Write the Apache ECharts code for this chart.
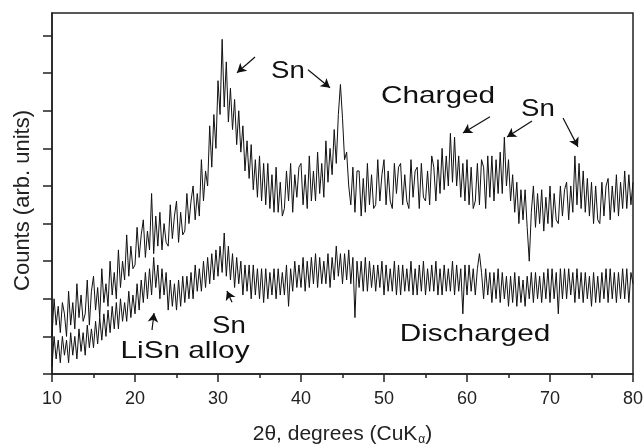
<!DOCTYPE html>
<html><head><meta charset="utf-8">
<script src="https://cdn.jsdelivr.net/npm/echarts@6/dist/echarts.min.js"></script>
<style>html,body{margin:0;padding:0;background:#fff}#c{width:644px;height:444px}</style>
</head><body><div id="c"></div>
<script>
// 2theta grid: 10 .. 80 deg, step 0.25 deg
const startAngle = 10;
const stepAngle = 0.25;

// Charged electrode pattern (arb. units), 4 readings per degree (10.00, 10.25, 10.50, 10.75, 11.00 ...)
const charged = [
  1.0,2.0,1.3,1.8, 1.1,1.9,1.6,1.0, 2.2,1.3,1.9,1.2, 2.4,1.5,2.1,1.4, 1.6,2.5,1.3,2.2,
  2.6,1.7,2.3,1.5, 2.8,1.9,2.4,1.8, 3.0,2.1,2.7,2.0, 3.3,2.3,3.0,2.5, 3.7,2.6,3.4,2.8,
  2.9,3.9,3.1,3.7, 4.1,3.1,3.8,3.3, 4.8,3.2,4.2,3.4, 4.3,3.3,4.0,3.5, 3.4,4.5,3.6,4.2,
  4.6,3.5,4.3,3.7, 3.8,4.8,4.0,4.6, 5.0,4.1,4.8,4.2, 5.7,4.6,5.4,5.0, 6.6,5.5,6.9,6.0,
  7.8,6.9,8.9,7.1, 8.3,6.7,7.6,6.5, 7.3,6.1,7.0,5.9, 6.6,5.4,6.2,5.2, 6.1,4.9,5.7,4.7,
  5.8,4.6,5.6,4.5, 5.6,4.4,5.3,4.3, 5.5,4.3,5.1,4.2, 4.4,5.4,4.6,5.6, 4.3,5.3,4.7,5.5,
  5.6,4.5,5.3,4.4, 5.8,4.6,5.4,4.6, 5.9,4.8,5.6,4.7, 6.2,5.1,6.0,5.3, 6.5,5.6,6.9,7.7,
  6.8,5.7,5.9,5.0, 4.5,5.5,4.3,5.4, 5.4,4.2,5.2,4.3, 5.6,4.5,5.3,4.4, 4.5,5.7,4.6,5.3,
  5.7,4.5,5.4,4.6, 4.4,5.6,4.8,5.5, 5.6,4.5,5.3,4.6, 4.4,5.7,4.7,5.4, 5.5,4.4,5.6,4.7,
  4.6,5.4,4.5,5.8, 5.5,4.6,5.7,4.8, 6.0,4.9,5.8,5.0, 6.4,5.1,6.3,5.0, 5.8,4.7,5.6,4.6,
  5.7,4.5,5.5,4.4, 4.6,5.6,4.5,5.7, 5.5,4.4,5.8,4.7, 5.8,4.6,5.7,4.8, 5.9,4.8,6.3,5.0,
  5.7,4.6,5.3,4.3, 5.1,4.0,4.9,4.1, 4.9,3.9,3.0,4.3, 5.0,3.9,4.8,4.0, 4.9,3.8,4.7,4.0,
  5.0,3.9,4.8,4.1, 4.0,5.0,4.2,4.9, 5.1,4.1,5.0,4.3, 5.8,4.5,5.6,4.4, 5.4,4.3,5.2,4.2,
  5.1,4.0,5.0,4.1, 4.0,5.1,4.2,5.0, 5.2,4.1,5.0,4.3, 5.3,4.2,5.1,4.4, 5.4,4.4,5.3,4.5,
  5.1
];

// Discharged electrode pattern (arb. units), 4 readings per degree
const discharged = [
  0.2,1.0,0.4,0.9, 0.3,1.0,0.5,0.9, 0.3,1.1,0.5,1.0, 0.4,1.2,0.6,1.1, 0.5,1.3,0.7,1.2,
  0.7,1.4,0.8,1.5, 0.9,1.6,1.0,1.7, 1.1,1.8,1.2,1.9, 1.2,2.0,1.4,1.9, 1.4,2.2,1.5,2.1,
  1.6,2.4,1.7,2.5, 1.9,2.7,2.0,2.8, 2.1,3.1,2.3,2.9, 2.0,2.8,2.1,2.7, 1.7,2.5,1.8,2.4,
  1.7,2.5,1.8,2.6, 1.9,2.6,2.0,2.7, 2.0,2.9,2.2,2.8, 2.2,3.0,2.3,3.1, 2.4,3.2,2.5,3.3,
  2.6,3.4,2.7,3.75, 2.6,3.4,2.5,3.2, 2.3,3.1,2.4,3.0, 2.1,2.9,2.2,2.9, 2.0,2.9,2.1,2.8,
  2.0,2.8,1.9,2.8, 2.0,2.7,2.1,2.8, 2.0,2.8,2.1,2.7, 2.1,2.9,1.8,2.8, 2.2,3.0,2.3,2.9,
  2.3,3.1,2.2,3.0, 2.3,3.1,2.4,3.2, 2.3,3.1,2.4,3.0, 2.4,3.2,2.3,3.1, 2.5,3.4,2.6,3.2,
  2.4,3.2,2.5,3.3, 2.4,3.1,1.5,3.0, 2.3,3.0,2.2,3.1, 2.2,3.0,2.3,2.9, 2.2,2.9,2.3,3.0,
  2.1,2.9,2.2,2.8, 2.2,3.0,2.1,2.9, 2.1,2.9,2.2,2.8, 2.2,3.0,2.1,2.8, 2.1,2.9,2.2,3.0,
  2.1,2.8,2.2,2.9, 2.2,3.0,2.1,2.8, 2.1,2.9,2.2,2.8, 2.2,3.0,2.1,2.9, 2.2,2.8,1.6,2.9,
  2.1,2.9,2.2,2.8, 2.1,2.8,3.2,2.7, 2.0,2.8,2.1,2.7, 1.9,2.7,2.0,2.8, 1.9,2.7,2.0,2.6,
  1.8,2.6,1.9,2.7, 1.8,2.6,1.9,2.5, 1.8,2.6,2.0,2.7, 1.9,2.7,2.0,2.6, 1.9,2.7,2.0,2.8,
  1.9,2.8,2.0,2.7, 1.6,2.8,2.0,2.8, 2.0,2.8,2.1,2.7, 1.9,2.8,2.0,2.7, 1.9,2.7,2.0,2.6,
  1.8,2.7,1.9,2.6, 1.9,2.7,2.0,2.8, 1.9,2.8,2.0,2.7, 1.9,2.7,2.0,2.8, 2.0,2.8,1.9,2.7,
  2.4
];

const xTickValues = [10, 20, 30, 40, 50, 60, 70, 80];
const yTickValues = [0, 1, 2, 3, 4, 5, 6, 7, 8, 9];

// annotation arrows in data coordinates: [fromX, fromY, toX, toY]
const arrows = [
  [34.46, 8.43, 32.29, 8.01],
  [40.84, 8.09, 43.49, 7.61],
  [62.77, 6.84, 59.52, 6.41],
  [67.83, 6.73, 64.82, 6.30],
  [71.57, 6.81, 73.37, 6.04],
  [22.05, 1.17, 22.29, 1.62],
  [31.69, 1.91, 31.08, 2.21]
];

const labels = [
  {text: 'Sn', x: 288, y: 71, sx: 1.15},
  {text: 'Charged', x: 438, y: 96, sx: 1.24},
  {text: 'Sn', x: 538, y: 109, sx: 1.15},
  {text: 'Sn', x: 229, y: 326, sx: 1.15},
  {text: 'LiSn alloy', x: 185, y: 351, sx: 1.24},
  {text: 'Discharged', x: 475, y: 334, sx: 1.24}
];

const toPairs = arr => arr.map((v, i) => [startAngle + i * stepAngle, v]);

const chart = echarts.init(document.getElementById('c'), null, {renderer: 'canvas'});
const font = 'Liberation Sans, Arial, Helvetica, sans-serif';
chart.setOption({
  animation: false,
  backgroundColor: '#fff',
  grid: {left: 52, right: 11, top: 13, bottom: 70, containLabel: false, outerBoundsMode: 'none',
    show: true, borderColor: '#222', borderWidth: 1.5, backgroundColor: 'transparent'},
  xAxis: {
    type: 'value', min: 10, max: 80, interval: 10,
    axisLine: {show: true, lineStyle: {color: '#222', width: 1.5}},
    axisTick: {show: true, inside: false, length: 8, lineStyle: {color: '#222', width: 1.5}, customValues: xTickValues},
    minorTick: {show: true, splitNumber: 2, length: 4, lineStyle: {color: '#222', width: 1.5}},
    axisLabel: {show: true, fontSize: 18, margin: 16, color: '#222', fontFamily: font, customValues: xTickValues},
    splitLine: {show: false},
    name: '2θ, degrees (CuK{sub|α})',
    nameLocation: 'middle', nameGap: 48,
    nameTextStyle: {fontSize: 21, color: '#222', fontFamily: font,
      rich: {sub: {fontSize: 12, verticalAlign: 'bottom', padding: [12, 0, 0, 1], color: '#222', fontFamily: font}}}
  },
  yAxis: {
    type: 'value', min: 0, max: 9.6, interval: 1,
    axisLine: {show: true, lineStyle: {color: '#222', width: 1.5}},
    axisTick: {show: true, inside: false, length: 9, lineStyle: {color: '#222', width: 1.5}, customValues: yTickValues},
    axisLabel: {show: false},
    splitLine: {show: false},
    name: 'Counts (arb. units)',
    nameLocation: 'middle', nameGap: 18,
    nameTextStyle: {fontSize: 22, color: '#222', fontFamily: font, padding: [0, 14, 0, 0]}
  },
  series: [
    {
      name: 'Charged', type: 'line', data: toPairs(charged), showSymbol: false, symbol: 'none',
      lineStyle: {color: '#111', width: 1}, silent: true, sampling: null,
      markLine: {
        silent: true, symbol: ['none', 'arrow'], symbolSize: [8, 9],
        lineStyle: {color: '#111', width: 1.2, type: 'solid'},
        label: {show: false},
        data: arrows.map(a => [{coord: [a[0], a[1]]}, {coord: [a[2], a[3]]}])
      }
    },
    {
      name: 'Discharged', type: 'line', data: toPairs(discharged), showSymbol: false, symbol: 'none',
      lineStyle: {color: '#111', width: 1}, silent: true, sampling: null
    }
  ],
  graphic: labels.map(l => ({
    type: 'text', x: l.x, y: l.y, scaleX: l.sx, silent: true,
    style: {text: l.text, fontSize: 24, fontFamily: font, fill: '#111',
      align: 'center', verticalAlign: 'middle', textAlign: 'center', textVerticalAlign: 'middle'}
  }))
});
</script>
</body></html>
